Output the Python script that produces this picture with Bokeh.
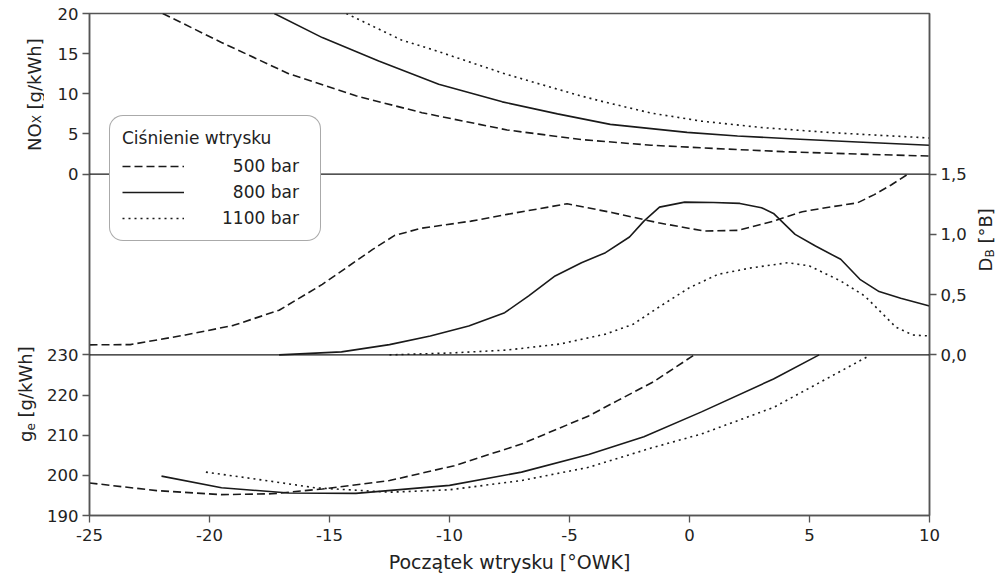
import math
from bokeh.plotting import figure
from bokeh.layouts import row
from bokeh.models import (Range1d, LinearAxis, FixedTicker, CustomJSTickFormatter,
                          Span, Label, Legend, LegendItem)
from bokeh.embed import file_html
from bokeh.resources import INLINE

FONT = "DejaVu Sans"
TICK_FS = "16.5px"
LEG_FS = "17px"
TITLE_FS = "18px"
XTITLE_FS = "19px"
SUB_FS = "12px"
INK = "#1a1a1a"
AXC = "#555555"
TXT = "#222222"

# ---------------- data ----------------
series_labels = ["500 bar", "800 bar", "1100 bar"]
legend_title = "Ciśnienie wtrysku"

# NOx [g/kWh]
nox_x_500 = [-21.95, -19.5, -16.7, -13.9, -11.15, -7.6, -4.5, -1.6, 1.0, 3.9, 7.0, 10.0]
nox_500 = [20.0, 16.4, 12.5, 9.75, 7.65, 5.5, 4.3, 3.6, 3.2, 2.8, 2.5, 2.25]
nox_x_800 = [-17.3, -15.3, -12.95, -10.45, -7.8, -5.5, -3.3, -0.1, 2.0, 4.6, 7.0, 10.0]
nox_800 = [20.0, 17.0, 14.1, 11.2, 9.0, 7.5, 6.2, 5.2, 4.75, 4.35, 4.0, 3.6]
nox_x_1100 = [-14.3, -12.0, -10.6, -9.2, -7.7, -6.45, -4.6, -3.7, -1.6, 0.5, 3.0, 6.0, 10.0]
nox_1100 = [20.0, 16.7, 15.4, 14.0, 12.5, 11.4, 9.8, 9.1, 7.6, 6.6, 5.8, 5.15, 4.5]

# D_B [deg B]
db_x_500 = [-25, -23.3, -21, -19, -17.1, -15.3, -13.2, -12.3, -11.2, -9.1, -7.6, -5.1,
            -3.2, -1.3, 0.6, 2.0, 3.5, 4.7, 5.8, 7.0, 7.7, 8.4, 9.1]
db_500 = [0.083, 0.085, 0.165, 0.245, 0.37, 0.585, 0.875, 0.99, 1.05, 1.11, 1.166, 1.254,
          1.18, 1.096, 1.028, 1.033, 1.11, 1.188, 1.225, 1.262, 1.33, 1.41, 1.5]
db_x_800 = [-17.1, -14.5, -12.5, -10.8, -9.2, -7.7, -6.7, -5.6, -4.5, -3.5, -2.5, -1.9, -1.25,
            -0.2, 1.0, 2.1, 3.0, 3.5, 4.4, 5.25, 6.3, 7.1, 7.9, 8.8, 10.0]
db_800 = [0.0, 0.025, 0.085, 0.157, 0.24, 0.35, 0.49, 0.655, 0.765, 0.848, 0.978, 1.11, 1.226,
          1.268, 1.265, 1.257, 1.221, 1.174, 1.0, 0.903, 0.793, 0.627, 0.525, 0.47, 0.405]
db_x_1100 = [-12.5, -10.0, -7.6, -5.4, -3.5, -2.35, -1.2, 0.0, 1.2, 2.6, 4.1, 5.0, 6.3, 7.3,
             8.0, 8.6, 9.3, 10.0]
db_1100 = [0.0, 0.015, 0.04, 0.09, 0.172, 0.254, 0.406, 0.558, 0.669, 0.723, 0.765, 0.738,
           0.613, 0.489, 0.35, 0.23, 0.165, 0.157]

# g_e [g/kWh]
ge_x_500 = [-25, -22.2, -19.5, -17.4, -15.3, -12.5, -9.8, -7.0, -4.2, -3.0, -1.5, 0.2]
ge_500 = [198.1, 196.2, 195.2, 195.4, 196.6, 198.7, 202.4, 207.8, 214.8, 218.6, 223.3, 230.0]
ge_x_800 = [-22.0, -19.5, -16.7, -13.9, -10.0, -7.0, -4.2, -1.9, 0.5, 3.5, 5.4]
ge_800 = [199.8, 196.9, 195.6, 195.5, 197.5, 200.8, 205.2, 209.6, 215.8, 224.0, 230.0]
ge_x_1100 = [-20.15, -18.1, -15.6, -12.5, -10.0, -7.0, -4.2, -1.6, 0.5, 3.5, 7.4]
ge_1100 = [200.8, 199.1, 196.9, 195.8, 196.4, 198.7, 202.0, 206.8, 210.3, 216.9, 229.5]

# ticks
x_ticks = [-25, -20, -15, -10, -5, 0, 5, 10]
nox_ticks = [0, 5, 10, 15, 20]
db_ticks = [0.0, 0.5, 1.0, 1.5]
ge_ticks = [190, 200, 210, 220, 230]

# ---------------- geometry ----------------
H = 578
W_LEFT, W_RIGHT = 44, 24            # strips holding the rotated axis titles
W_MAIN = 996 - W_LEFT - W_RIGHT
B_LEFT, B_RIGHT, B_TOP, B_BOTTOM = 43, 43, 13, 63
FRAME_H = H - B_TOP - B_BOTTOM

# stacked panels on one frame
G_MIN, G_MAX = 190, 315          # primary axis: g_e units, frame bottom..top
NOX_BASE, NOX_SCALE = 275, 2     # NOx value v drawn at 275 + 2 v (primary units)
DB_BASE, DB_SCALE = 230, 30      # D_B value v drawn at 230 + 30 v (primary units)
PPU = FRAME_H / (G_MAX - G_MIN)  # pixels per primary unit

p = figure(width=W_MAIN, height=H, x_range=Range1d(-25, 10), y_range=Range1d(G_MIN, G_MAX),
           output_backend="svg", toolbar_location=None,
           min_border_left=B_LEFT, min_border_right=B_RIGHT,
           min_border_top=B_TOP, min_border_bottom=B_BOTTOM,
           background_fill_color="white", border_fill_color="white")
p.extra_y_ranges = {
    "nox": Range1d((G_MIN - NOX_BASE) / NOX_SCALE, (G_MAX - NOX_BASE) / NOX_SCALE),
    "db": Range1d((G_MIN - DB_BASE) / DB_SCALE, (G_MAX - DB_BASE) / DB_SCALE),
}
p.grid.visible = False
p.outline_line_color = AXC
p.outline_line_width = 1.5

# panel separators
p.add_layout(Span(location=NOX_BASE, dimension="width", line_color=INK, line_width=1.2))
p.add_layout(Span(location=DB_BASE, dimension="width", line_color=INK, line_width=1.2))

dashes = ["8 4", "solid", "2 4"]
lw = 1.6
r_nox = []
for xs, ys, d in zip([nox_x_500, nox_x_800, nox_x_1100], [nox_500, nox_800, nox_1100], dashes):
    r_nox.append(p.line(xs, ys, y_range_name="nox", line_color=INK, line_width=lw, line_dash=d))
for xs, ys, d in zip([db_x_500, db_x_800, db_x_1100], [db_500, db_800, db_1100], dashes):
    p.line(xs, ys, y_range_name="db", line_color=INK, line_width=lw, line_dash=d)
for xs, ys, d in zip([ge_x_500, ge_x_800, ge_x_1100], [ge_500, ge_800, ge_1100], dashes):
    p.line(xs, ys, line_color=INK, line_width=lw, line_dash=d)


def style_axis(ax):
    ax.major_tick_out = 7
    ax.major_tick_in = 0
    ax.minor_tick_out = 0
    ax.minor_tick_in = 0
    ax.axis_line_color = AXC
    ax.axis_line_width = 1.5
    ax.major_tick_line_color = AXC
    ax.major_tick_line_width = 1.3
    ax.major_label_text_font = FONT
    ax.major_label_text_font_size = TICK_FS
    ax.major_label_text_color = TXT
    ax.major_label_standoff = 4


# x axis
xa = p.xaxis[0]
xa.ticker = FixedTicker(ticks=x_ticks)
xa.formatter = CustomJSTickFormatter(code="return tick.toFixed(0);")
style_axis(xa)
xa.major_label_standoff = 6
xa.axis_label = "Początek wtrysku [°OWK]"
xa.axis_label_text_font = FONT
xa.axis_label_text_font_size = XTITLE_FS
xa.axis_label_text_font_style = "normal"
xa.axis_label_text_color = TXT
xa.axis_label_standoff = 7

# left axis: g_e ticks plus NOx ticks mapped into the stacked units
ya = p.yaxis[0]
ya.ticker = FixedTicker(ticks=ge_ticks + [NOX_BASE + NOX_SCALE * t for t in nox_ticks])
ya.formatter = CustomJSTickFormatter(
    args=dict(base=NOX_BASE, scale=NOX_SCALE, split=(DB_BASE + NOX_BASE) / 2),
    code="return tick > split ? ((tick - base) / scale).toFixed(0) : tick.toFixed(0);")
style_axis(ya)

# right axis: D_B
ra = LinearAxis(y_range_name="db", ticker=FixedTicker(ticks=db_ticks),
                formatter=CustomJSTickFormatter(code="return tick.toFixed(1).replace('.', ',');"))
style_axis(ra)
p.add_layout(ra, "right")

# legend
items = [LegendItem(label="\u2007" + series_labels[0], renderers=[r_nox[0]]),
         LegendItem(label="\u2007" + series_labels[1], renderers=[r_nox[1]]),
         LegendItem(label=series_labels[2], renderers=[r_nox[2]])]
legend = Legend(items=items, location=(20, 274), title=legend_title,
                title_text_font=FONT, title_text_font_size=LEG_FS, title_text_font_style="normal",
                title_text_color=TXT, title_standoff=8,
                label_text_font=FONT, label_text_font_size=LEG_FS, label_text_color=TXT,
                glyph_width=62, glyph_height=20, label_height=20, label_standoff=38,
                label_width=86, spacing=6, padding=12,
                border_line_color=AXC, border_line_width=1.3,
                background_fill_color="white", background_fill_alpha=1.0)
if "border_radius" in Legend.properties():
    legend.border_radius = 14
p.add_layout(legend)


# ---------------- side strips with the rotated axis titles ----------------
def strip(width):
    lo = G_MIN - B_BOTTOM / PPU
    hi = G_MAX + B_TOP / PPU
    s = figure(width=width, height=H, x_range=Range1d(0, width), y_range=Range1d(lo, hi),
               output_backend="svg", toolbar_location=None, min_border=0,
               x_axis_location=None, y_axis_location=None,
               background_fill_color="white", border_fill_color="white")
    s.outline_line_color = None
    s.grid.visible = False
    return s


ROT = math.pi / 2


def add_label(fig, text, x, y, yoff, size=TITLE_FS):
    fig.add_layout(Label(x=x, y=y, y_offset=yoff, text=text, angle=ROT,
                         text_align="left", text_baseline="middle", text_font=FONT,
                         text_font_size=size, text_color=TXT))


left = strip(W_LEFT)
nox_mid = NOX_BASE + NOX_SCALE * (nox_ticks[0] + nox_ticks[-1]) / 2
ge_mid = (ge_ticks[0] + ge_ticks[-1]) / 2
# NO_X [g/kWh]
add_label(left, "NO", 33.5, nox_mid, -56.4)
add_label(left, "X", 36.5, nox_mid, -28.8, SUB_FS)
add_label(left, "[g/kWh]", 33.5, nox_mid, -14.9)
# g_e [g/kWh]
add_label(left, "g", 25, ge_mid, -50.9)
add_label(left, "e", 30, ge_mid, -39.5, SUB_FS)
add_label(left, "[g/kWh]", 25, ge_mid, -26.4)

right = strip(W_RIGHT)
db_mid = DB_BASE + DB_SCALE * (db_ticks[0] + db_ticks[-1]) / 2
# D_B [°B]
add_label(right, "D", 13, db_mid, -28.6)
add_label(right, "B", 17, db_mid, -14.7, SUB_FS)
add_label(right, "[°B]", 13, db_mid, -0.8)

layout = row(left, p, right, spacing=0)
open("out.html", "w").write(file_html(layout, INLINE))
